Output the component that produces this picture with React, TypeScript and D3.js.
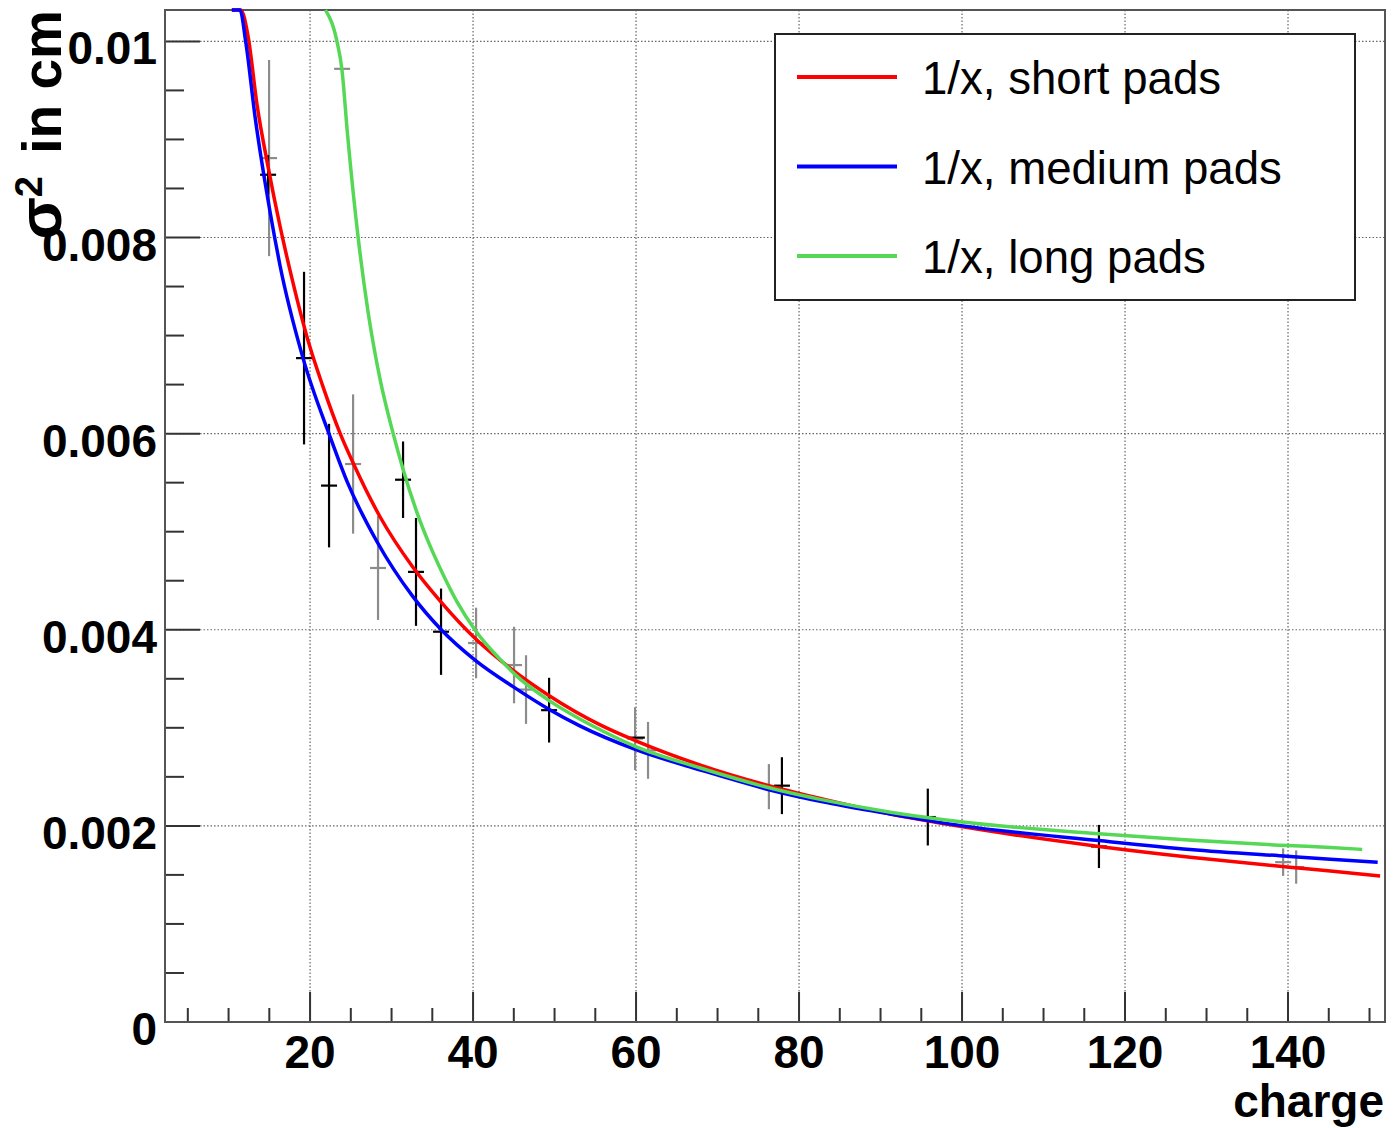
import React from "react";
import * as d3 from "d3";

// ---- data (x = charge, y in units of 1e-3 cm^2) ----
const redCurve: [number, number][] = [
  [10.4, 12.5], [11.5, 11.3], [12.4, 10.05], [13.5, 9.35], [14.85, 8.72], [16.3, 8.12], [17.5, 7.68],
  [19.75, 6.95], [21.5, 6.5], [23.7, 6.0], [25.4, 5.68], [28.6, 5.15], [32.6, 4.64], [36.0, 4.29],
  [40.4, 3.9], [45.0, 3.58], [49.3, 3.33], [55.6, 3.03], [59.9, 2.87], [67.9, 2.62], [77.7, 2.38],
  [82.6, 2.28], [91.2, 2.12], [100.1, 1.99], [116.8, 1.79], [128.0, 1.68], [139.9, 1.58],
  [145.2, 1.54], [151.3, 1.49],
];
const blueCurve: [number, number][] = [
  [10.4, 12.5], [11.4, 11.0], [12.1, 10.0], [13.3, 9.2], [14.5, 8.55], [15.7, 7.98], [16.3, 7.72],
  [19.1, 6.78], [22.45, 5.97], [24.6, 5.5], [28.2, 4.9], [32.6, 4.34], [36.1, 4.0], [40.4, 3.68],
  [44.9, 3.42], [49.3, 3.19], [53.1, 3.02], [59.9, 2.78], [67.9, 2.57], [77.7, 2.34], [82.6, 2.25],
  [91.2, 2.12], [100.1, 2.0], [116.8, 1.85], [128.0, 1.76], [139.9, 1.69], [145.2, 1.66], [151.0, 1.63],
];
const greenCurve: [number, number][] = [
  [21.9, 10.4], [23.3, 10.0], [23.9, 9.72], [24.6, 9.05], [25.9, 8.0], [27.1, 7.25], [28.6, 6.55],
  [30.2, 6.0], [31.4, 5.64], [33.1, 5.2], [34.7, 4.86], [36.0, 4.62], [38.0, 4.29], [40.4, 3.98],
  [43.3, 3.7], [45.2, 3.54], [49.3, 3.28], [53.1, 3.09], [55.6, 2.98], [59.9, 2.81], [67.9, 2.59],
  [77.7, 2.36], [82.6, 2.27], [91.2, 2.14], [100.1, 2.04], [116.8, 1.92], [139.9, 1.8],
  [145.2, 1.78], [149.1, 1.76],
];
// [x, y, error]
const blackPoints: [number, number, number][] = [
  [14.85, 8.64, 0.2], [19.26, 6.77, 0.88], [22.33, 5.47, 0.63], [31.41, 5.53, 0.39],
  [33.0, 4.59, 0.55], [36.07, 3.98, 0.44], [49.33, 3.18, 0.33], [60.1, 2.9, 0.0],
  [77.9, 2.41, 0.29], [95.8, 2.09, 0.29], [116.8, 1.79, 0.22],
];
const grayPoints: [number, number, number][] = [
  [14.97, 8.81, 1.0], [23.93, 9.72, 0.0], [25.28, 5.69, 0.71], [28.34, 4.63, 0.53],
  [40.37, 3.865, 0.36], [45.03, 3.64, 0.39], [46.5, 3.39, 0.35], [59.88, 2.89, 0.32],
  [61.47, 2.77, 0.29], [76.3, 2.4, 0.23], [139.4, 1.63, 0.14], [141.0, 1.58, 0.17],
];
const xMajorTicks = [20, 40, 60, 80, 100, 120, 140];
const yMajorTicks = [0, 2, 4, 6, 8, 10];
const yTickLabels = ["0", "0.002", "0.004", "0.006", "0.008", "0.01"];
const legendLabels = ["1/x, short pads", "1/x, medium pads", "1/x, long pads"];
const seriesColors = ["#ff0000", "#0000ff", "#55d855"];

const W = 1394, H = 1128;
const L = 165, R = 1385, T = 10, B = 1022;

export default function App() {
  const x = d3.scaleLinear().domain([2.2, 151.9]).range([L, R]);
  const y = d3.scaleLinear().domain([0, 10.32]).range([B, T]);
  const yc = d3.scaleLinear().domain([0, 10.32]).range([B, T]).clamp(true);
  const line = d3.line<[number, number]>().x(d => x(d[0])).y(d => yc(d[1])).curve(d3.curveMonotoneX);
  const xMinor = d3.range(5, 151, 5).filter(v => v % 20 !== 0);
  const yMinor = d3.range(0.5, 10.3, 0.5).filter(v => Math.abs(v / 2 - Math.round(v / 2)) > 1e-6);
  const font = "'Liberation Sans', Arial, Helvetica, sans-serif";
  const curves = [redCurve, blueCurve, greenCurve];

  const drawPoints = (pts: [number, number, number][], color: string, key: string) =>
    pts.map((p, i) => (
      <g key={key + i} stroke={color} strokeWidth={2.2}>
        {p[2] > 0 && <line x1={x(p[0])} x2={x(p[0])} y1={y(p[1] - p[2])} y2={y(p[1] + p[2])} />}
        <line x1={x(p[0]) - 8} x2={x(p[0]) + 8} y1={y(p[1])} y2={y(p[1])} />
      </g>
    ));

  return (
    <svg width={W} height={H} style={{ position: "absolute", left: 0, top: 0, background: "#fff" }} fontFamily={font}>
      <rect x={0} y={0} width={W} height={H} fill="#fff" />
      {/* grid */}
      <g stroke="#666" strokeWidth={1.2} strokeDasharray="1.5,2">
        {xMajorTicks.map(v => <line key={"gx" + v} x1={x(v)} x2={x(v)} y1={T} y2={B} />)}
        {yMajorTicks.filter(v => v > 0).map(v => <line key={"gy" + v} x1={L} x2={R} y1={y(v)} y2={y(v)} />)}
      </g>
      {/* ticks */}
      <g stroke="#333" strokeWidth={2}>
        {xMajorTicks.map(v => <line key={"xt" + v} x1={x(v)} x2={x(v)} y1={B} y2={B - 30} />)}
        {xMinor.map(v => <line key={"xm" + v} x1={x(v)} x2={x(v)} y1={B} y2={B - 14} />)}
        {yMajorTicks.map(v => <line key={"yt" + v} x1={L} x2={L + 35} y1={y(v)} y2={y(v)} />)}
        {yMinor.map(v => <line key={"ym" + v} x1={L} x2={L + 19} y1={y(v)} y2={y(v)} />)}
      </g>
      {/* frame */}
      <rect x={L} y={T} width={R - L} height={B - T} fill="none" stroke="#555" strokeWidth={2} />
      {/* data points */}
      {drawPoints(grayPoints, "#8c8c8c", "g")}
      {drawPoints(blackPoints, "#000", "b")}
      {/* curves */}
      {curves.map((c, i) => (
        <path key={"c" + i} d={line(c) || ""} fill="none" stroke={seriesColors[i]} strokeWidth={3.5} />
      ))}
      {/* tick labels */}
      <g fontWeight="bold" fontSize={46} fill="#000">
        {yMajorTicks.map((v, i) => (
          <text key={"yl" + v} x={157} y={y(v) + 23} textAnchor="end">{yTickLabels[i]}</text>
        ))}
        {xMajorTicks.map(v => (
          <text key={"xl" + v} x={x(v)} y={1068} textAnchor="middle">{v}</text>
        ))}
      </g>
      <text x={1384} y={1117} textAnchor="end" fontWeight="bold" fontSize={46}>charge</text>
      {/* y title */}
      <g transform="translate(61,0) rotate(-90)" fontWeight="bold">
        <text x={-10} y={0} textAnchor="end" fontSize={55}>in cm</text>
        <text x={-176} y={-19} textAnchor="end" fontSize={38}>2</text>
        <text x={-197} y={0} textAnchor="end" fontSize={62}>σ</text>
      </g>
      {/* legend */}
      <rect x={775} y={34} width={580} height={266} fill="#fff" stroke="#222" strokeWidth={2} />
      {legendLabels.map((lab, i) => {
        const ly = 77 + i * 89.5;
        return (
          <g key={"lg" + i}>
            <line x1={797} x2={897} y1={ly} y2={ly} stroke={seriesColors[i]} strokeWidth={4} />
            <text x={922} y={ly + 17} fontSize={45.6} fill="#000">{lab}</text>
          </g>
        );
      })}
    </svg>
  );
}
